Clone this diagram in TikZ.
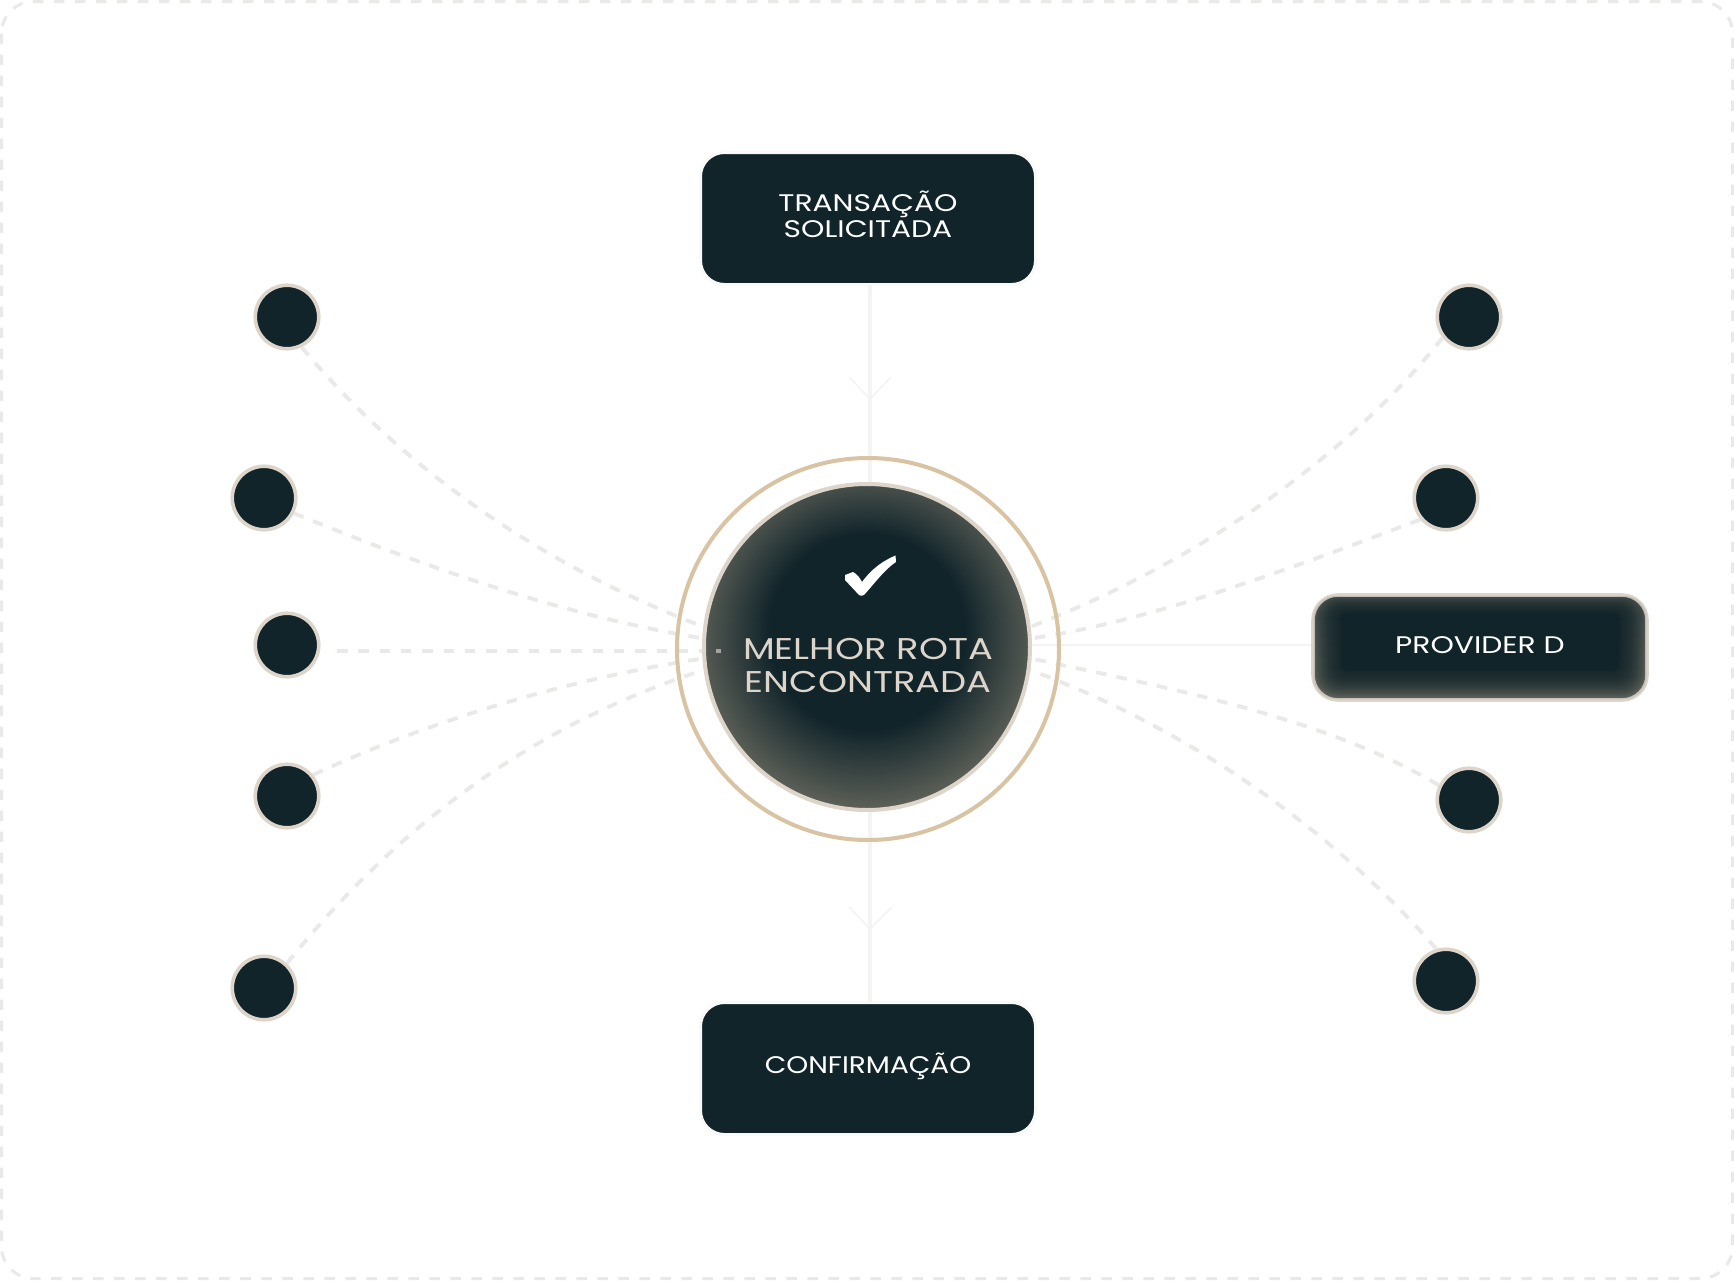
\documentclass[tikz,border=0pt]{standalone}
\usepackage{fontspec}
\newfontfamily\lbl[FakeStretch=1.24]{Poppins}
\newfontfamily\lblb[FakeStretch=1.165]{Poppins}
\newfontfamily\lblc[FakeStretch=1.23]{Poppins}
\definecolor{dk}{HTML}{11242A}
\definecolor{edgeA}{HTML}{6E6E62}
\definecolor{edgeT}{HTML}{4F5652}
\definecolor{stk}{HTML}{DDD5CA}
\definecolor{ringc}{HTML}{D8C3A3}
\definecolor{dashc}{HTML}{E9E9E7}
\definecolor{faint}{HTML}{F4F4F2}
\definecolor{halo}{HTML}{F9F9F7}
\pgfdeclareradialshading{coreshade}{\pgfpoint{0bp}{3.3bp}}{color(0bp)=(dk); color(15bp)=(dk); color(29bp)=(edgeA); color(50bp)=(edgeA)}
\tikzset{
  x=1pt,y=-1pt,
  dot/.style={circle,fill=dk,draw=stk,line width=3.6pt,minimum size=63.5pt,inner sep=0pt},
  darkbox/.style={rectangle,rounded corners=24pt,fill=dk,draw=halo,line width=3pt,minimum width=335pt,minimum height=132pt,inner sep=0pt,text=white,align=center},
  route/.style={draw=dashc,line width=3.8pt,dash pattern=on 10.5pt off 10.2pt},
  flow/.style={draw=faint,line width=3.5pt},
  flowhead/.style={draw=faint,line width=1.5pt},
}
\begin{document}
\begin{tikzpicture}
\useasboundingbox (0,0) rectangle (1734,1280);
\fill[white] (0,0) rectangle (1734,1280);
\draw[draw=dashc,line width=3pt,rounded corners=32pt,dash pattern=on 10.5pt off 10.5pt] (1.5,1.5) rectangle (1732.5,1278.5);

\node[dot] (l1) at (287,317) {};
\node[dot] (l2) at (264,498) {};
\node[dot] (l3) at (287,645) {};
\node[dot] (l4) at (287,796) {};
\node[dot] (l5) at (264,988) {};
\node[dot] (r1) at (1469,317) {};
\node[dot] (r2) at (1446,498) {};
\node[dot] (r3) at (1469,800) {};
\node[dot] (r4) at (1446,981) {};
\node[circle,minimum size=328pt,inner sep=0pt] (hubedge) at (867,647) {};
\coordinate (l3a) at (319,651);

\draw[route] (l1.-64) .. controls (370,430) and (500,550) .. (hubedge.173);
\draw[route] (l2.-27) .. controls (420,565) and (560,615) .. (hubedge.177.6);
\draw[route,shorten <=18pt,dash pattern=on 10.5pt off 10.8pt] (l3a) -- (hubedge.west |- l3a);
\draw[route] (l4.39) .. controls (420,725) and (560,680) .. (hubedge.184.2);
\draw[route] (l5.47) .. controls (370,860) and (500,735) .. (hubedge.188.7);
\draw[route] (r1.-142) .. controls (1370,430) and (1230,550) .. (hubedge.7.3);
\draw[route] (r2.-140) .. controls (1300,565) and (1150,622) .. (hubedge.3.1);
\draw[route] (r3.154) .. controls (1330,720) and (1180,690) .. (hubedge.-4.2);
\draw[route] (r4.107) .. controls (1360,860) and (1220,740) .. (hubedge.-8.7);

% top and bottom boxes
\node[darkbox,font=\lbl\fontsize{24}{26}\selectfont] (start) at (868,218.5) {\raisebox{0pt}[37pt][0pt]{\begin{tabular}[b]{@{}c@{}}TRANSAÇÃO\\SOLICITADA\end{tabular}}};
\node[darkbox,font=\lblb\fontsize{24}{26}\selectfont] (confirm) at (868,1068.5) {\raisebox{0pt}[9pt][0pt]{CONFIRMAÇÃO}};

% provider box
\node[rectangle,rounded corners=25pt,draw=stk,line width=3.6pt,top color=edgeT,bottom color=edgeA,minimum width=334pt,minimum height=105pt,inner sep=0pt] (prov) at (1480,647.5) {};
\foreach \i in {0,...,28}{
  \fill[dk,fill opacity=0.065,rounded corners={max(6,23-0.5*\i)*1pt}] ({1313+\i},{595.5+0.62*\i}) rectangle ({1647-\i},{699.5-\i});
}
\fill[dk,rounded corners=6pt] (1341,613) rectangle (1619,671);
\node[text=white,font=\lbl\fontsize{24}{26}\selectfont,inner sep=0pt] (provlabel) at (prov.center) {\raisebox{0pt}[11pt][0pt]{PROVIDER D}};

% hub
\coordinate (ta) at (870,285);
\coordinate (tb) at (870,482);
\coordinate (tc) at (870,811);
\coordinate (td) at (870,1002);
\coordinate (tl) at (849,377);
\coordinate (tt) at (870,399);
\coordinate (tr) at (891,377);
\coordinate (bl) at (849,907);
\coordinate (bt) at (870,929);
\coordinate (br) at (892,907);
\coordinate (hl) at (1030,645);
\draw[flow] (ta) -- (tb);
\draw[flowhead] (tl) -- (tt) -- (tr);
\draw[flow] (tc) -- (td);
\draw[flowhead] (bl) -- (bt) -- (br);
\draw[draw=faint,line width=1.5pt] (hl) -- (prov.west |- hl);

\node[circle,draw=ringc,line width=4pt,minimum size=382pt,inner sep=0pt] (ring) at (868,649) {};
\node[circle,draw=stk,line width=4pt,shading=coreshade,minimum size=326pt,inner sep=0pt,text=stk,font=\lblc\fontsize{30}{33}\selectfont,align=center] (core) at (867,647) {\raisebox{0pt}[90pt][0pt]{\begin{tabular}[b]{@{}c@{}}\hspace{2pt}MELHOR ROTA\\\hspace{2pt}ENCONTRADA\end{tabular}}};
\fill[black!5!gray!70!white] (716,649) rectangle (721,653);
\fill[white] (845,575) -- (853,572) .. controls (857,574) and (860,578) .. (862,582) .. controls (873,567) and (885,560) .. (895.5,555.5) -- (896,562) .. controls (885,569) and (874,584) .. (864,595) .. controls (862,596) and (860,596) .. (859,595) -- (845,580) -- cycle;
\end{tikzpicture}
\end{document}
